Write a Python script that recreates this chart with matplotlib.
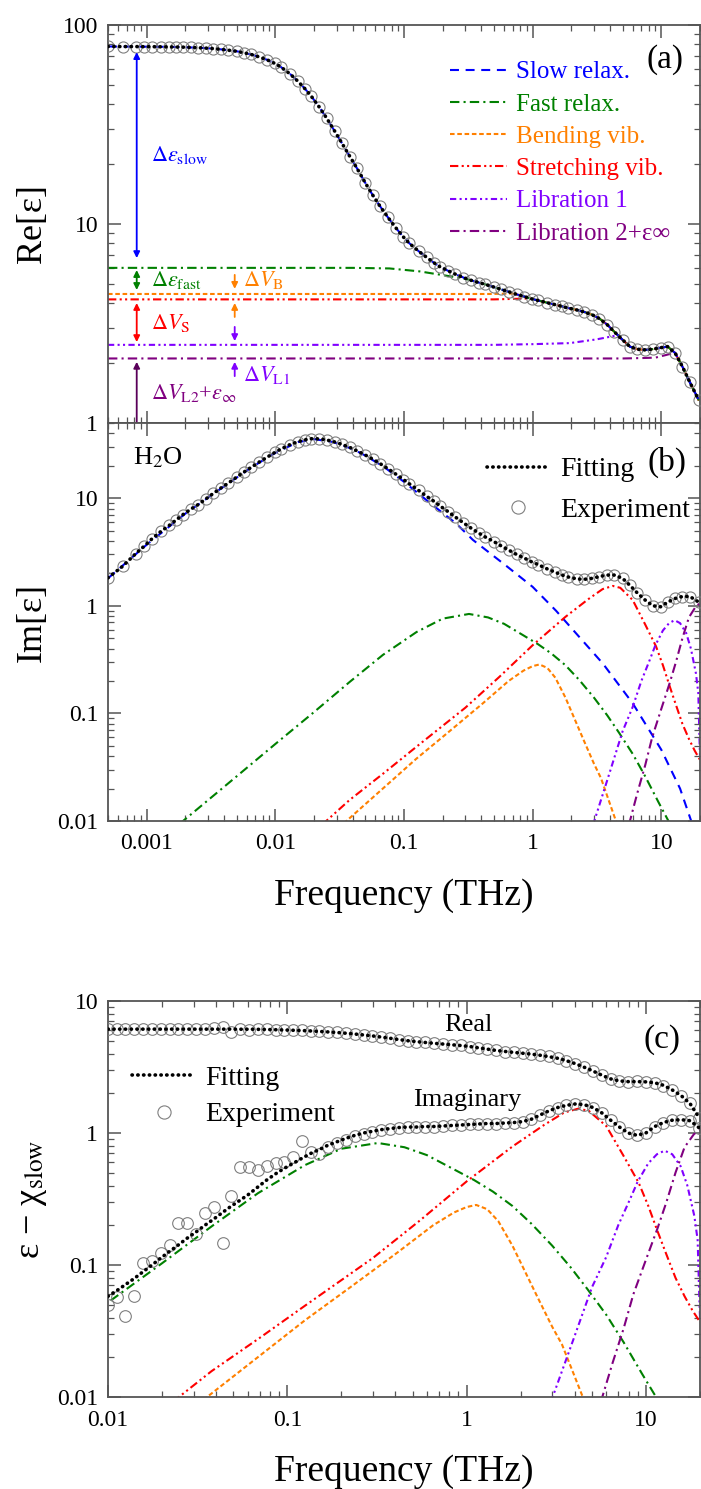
"""
Dielectric spectrum of liquid water: real/imaginary permittivity with the
relaxation and vibration components of the fit, plus eps - chi_slow.
"""

import numpy as np
import matplotlib
matplotlib.use('Agg')
import matplotlib.pyplot as plt
from matplotlib.ticker import LogLocator, NullFormatter, FuncFormatter
from matplotlib.lines import Line2D

plt.rcParams['font.family'] = ['Liberation Serif', 'DejaVu Serif']
plt.rcParams['mathtext.fontset'] = 'stix'

# ── Data (THz) ───────────────────────────────────────────────────────────────

# panels (a)/(b): measured spectrum, fit runs through the same points
freq_ab = [0.0005, 0.00065, 0.00082, 0.00096, 0.0011, 0.0013, 0.0015, 0.0017, 0.0019, 0.0022,
           0.0025, 0.0029, 0.0033, 0.0038, 0.0043, 0.005, 0.0057, 0.0065, 0.0075, 0.0086,
           0.0099, 0.011, 0.013, 0.015, 0.017, 0.019, 0.022, 0.025, 0.029, 0.033,
           0.038, 0.043, 0.05, 0.057, 0.065, 0.075, 0.086, 0.099, 0.11, 0.13,
           0.15, 0.17, 0.19, 0.22, 0.25, 0.29, 0.33, 0.38, 0.43, 0.5,
           0.57, 0.65, 0.75, 0.86, 0.99, 1.1, 1.3, 1.5, 1.7, 1.9,
           2.2, 2.5, 2.9, 3.3, 3.8, 4.3, 5.0, 5.7, 6.5, 7.5,
           8.6, 9.9, 11.2, 12.8, 14.6, 16.7, 19.6]
re_eps = [78.0, 77.9, 77.9, 77.8, 77.8, 77.7, 77.6, 77.5, 77.4, 77.1,
          76.9, 76.5, 76.1, 75.4, 74.7, 73.8, 72.5, 71.1, 69.1, 66.9,
          64.1, 61.6, 56.8, 52.1, 47.8, 43.9, 38.6, 34.1, 29.2, 25.4,
          21.8, 19.1, 16.1, 14.0, 12.3, 10.8, 9.6, 8.6, 8.0, 7.3,
          6.8, 6.4, 6.1, 5.82, 5.6, 5.38, 5.22, 5.08, 4.97, 4.82,
          4.69, 4.57, 4.43, 4.32, 4.2, 4.13, 4.02, 3.93, 3.85, 3.78,
          3.7, 3.62, 3.5, 3.35, 3.12, 2.88, 2.62, 2.42, 2.35, 2.33,
          2.35, 2.39, 2.42, 2.25, 1.92, 1.6, 1.3]
im_eps = [1.82, 2.33, 3.05, 3.6, 4.2, 4.95, 5.6, 6.3, 7.0, 7.9,
          8.7, 9.9, 11.1, 12.5, 13.8, 15.7, 17.5, 19.4, 21.7, 24.0,
          26.6, 28.6, 31.5, 33.5, 34.9, 35.7, 35.6, 34.8, 33.3, 31.6,
          29.6, 27.6, 25.2, 23.1, 21.0, 18.8, 16.8, 14.9, 13.6, 11.8,
          10.4, 9.4, 8.5, 7.5, 6.7, 5.9, 5.3, 4.75, 4.35, 3.95,
          3.6, 3.3, 3.0, 2.78, 2.55, 2.42, 2.2, 2.05, 1.93, 1.85,
          1.78, 1.76, 1.8, 1.87, 1.93, 1.93, 1.8, 1.55, 1.32, 1.13,
          1.0, 0.98, 1.08, 1.17, 1.22, 1.22, 1.08]

# panel (a): cumulative real parts, flat section before each joins the total
fast_re_f = [0.0005, 0.04, 0.077, 0.132, 0.213, 0.3]
fast_re = [6.02, 6.02, 5.98, 5.78, 5.5, 5.3]
bend_re_f = [0.0005, 0.45, 0.7]
bend_re = [4.45, 4.45, 4.47]
str_re_f = [0.0005, 0.5, 0.9]
str_re = [4.18, 4.18, 4.22]
lib1_re_f = [0.0005, 0.5, 1.0, 1.94, 3.12, 4.46]
lib1_re = [2.47, 2.47, 2.49, 2.52, 2.63, 2.75]
lib2_re_f = [0.0005, 5.0, 7.0, 9.0, 11.0, 12.5]
lib2_re = [2.11, 2.11, 2.12, 2.13, 2.2, 2.25]

# imaginary parts of the individual components
slow_im_f = [0.0005, 0.001, 0.002, 0.004, 0.0065, 0.01, 0.015, 0.02, 0.028, 0.04,
             0.05, 0.07, 0.1, 0.158, 0.255, 0.343, 0.624, 1.0, 1.52, 2.5,
             3.52, 6.0, 10.0, 14.0, 17.5]
slow_im = [1.8, 3.7, 7.2, 12.9, 19.3, 26.4, 33.2, 35.4, 33.3, 28.6,
           24.9, 19.5, 14.2, 9.1, 5.8, 4.1, 2.35, 1.5, 0.9, 0.46,
           0.29, 0.124, 0.046, 0.02, 0.0092]
fast_im_f = [0.0018, 0.005, 0.01, 0.02, 0.0378, 0.0686, 0.125, 0.2, 0.32, 0.45,
             0.6, 0.85, 1.1, 1.4, 1.8, 2.3, 3.0, 3.8, 4.7, 6.0,
             7.5, 9.5, 11.8]
fast_im = [0.0094, 0.026, 0.052, 0.103, 0.196, 0.35, 0.57, 0.76, 0.84, 0.78,
           0.68, 0.53, 0.44, 0.36, 0.28, 0.205, 0.14, 0.096, 0.066, 0.042,
           0.026, 0.015, 0.0092]
bend_im_f = [0.034, 0.07, 0.125, 0.225, 0.41, 0.65, 0.85, 1.0, 1.13, 1.3,
             1.5, 1.8, 2.2, 2.5, 3.0, 3.4, 4.55]
bend_im = [0.0095, 0.0205, 0.038, 0.068, 0.124, 0.2, 0.25, 0.275, 0.285, 0.265,
           0.215, 0.14, 0.08, 0.056, 0.034, 0.025, 0.0092]
str_im_f = [0.023, 0.0378, 0.07, 0.125, 0.3, 0.55, 1.0, 1.8, 2.7, 3.5,
            4.2, 4.8, 6.0, 7.5, 9.1, 10.3, 11.6, 13.0, 14.6, 16.4,
            18.2, 20.0]
str_im = [0.0092, 0.0157, 0.028, 0.049, 0.113, 0.218, 0.43, 0.79, 1.15, 1.43,
          1.53, 1.47, 1.13, 0.67, 0.42, 0.28, 0.18, 0.12, 0.08, 0.058,
          0.045, 0.037]
lib1_im_f = [2.95, 4.0, 5.0, 6.0, 7.0, 8.1, 9.0, 10.3, 11.5, 12.7,
             14.0, 15.6, 17.0, 18.6, 19.4, 19.8, 20.0]
lib1_im = [0.0092, 0.029, 0.068, 0.115, 0.2, 0.31, 0.43, 0.59, 0.69, 0.735,
           0.69, 0.56, 0.4, 0.235, 0.155, 0.06, 0.04]
lib2_im_f = [5.6, 6.5, 7.5, 8.5, 10.0, 11.6, 13.0, 14.6, 16.4, 18.5, 20.0]
lib2_im = [0.0092, 0.018, 0.033, 0.06, 0.11, 0.19, 0.3, 0.5, 0.78, 0.98, 1.06]

# panel (c): eps - chi_slow
freq_c = [0.01, 0.0112, 0.0125, 0.014, 0.0157, 0.0176, 0.0197, 0.0221, 0.0247, 0.0277,
          0.031, 0.0347, 0.0389, 0.0435, 0.0488, 0.0546, 0.0612, 0.0685, 0.0767, 0.0859,
          0.0962, 0.108, 0.121, 0.135, 0.151, 0.169, 0.19, 0.212, 0.238, 0.266,
          0.298, 0.334, 0.374, 0.419, 0.469, 0.525, 0.588, 0.659, 0.738, 0.826,
          0.925, 1.04, 1.16, 1.3, 1.46, 1.63, 1.83, 2.05, 2.29, 2.57,
          2.87, 3.22, 3.6, 4.04, 4.52, 5.06, 5.67, 6.35, 7.11, 7.96,
          8.91, 9.98, 11.2, 12.5, 14.0, 15.7, 17.6, 19.7]
re_c_fit = [6.12, 6.12, 6.12, 6.12, 6.12, 6.12, 6.12, 6.12, 6.12, 6.12,
            6.12, 6.12, 6.12, 6.12, 6.12, 6.11, 6.11, 6.1, 6.08, 6.06,
            6.03, 6.0, 5.97, 5.93, 5.88, 5.83, 5.77, 5.7, 5.62, 5.53,
            5.44, 5.33, 5.22, 5.1, 5.0, 4.92, 4.85, 4.78, 4.72, 4.66,
            4.6, 4.52, 4.42, 4.32, 4.22, 4.15, 4.08, 4.02, 3.96, 3.88,
            3.79, 3.68, 3.53, 3.35, 3.15, 2.95, 2.74, 2.57, 2.48, 2.45,
            2.45, 2.44, 2.4, 2.3, 2.12, 1.92, 1.67, 1.32]
re_c_exp = [6.14, 6.1, 6.13, 6.12, 6.1, 6.14, 6.12, 6.11, 6.13, 6.12,
            6.1, 6.15, 6.2, 6.4, 5.85, 6.12, 6.08, 6.12, 6.1, 6.05,
            6.05, 5.98, 5.99, 5.92, 5.9, 5.81, 5.78, 5.68, 5.63, 5.52,
            5.45, 5.32, 5.23, 5.09, 5.01, 4.91, 4.86, 4.77, 4.73, 4.65,
            4.61, 4.51, 4.43, 4.31, 4.23, 4.14, 4.09, 4.01, 3.97, 3.87,
            3.8, 3.67, 3.54, 3.34, 3.16, 2.94, 2.75, 2.56, 2.49, 2.44,
            2.46, 2.43, 2.41, 2.29, 2.13, 1.91, 1.68, 1.31]
im_c_fit = [0.058, 0.064, 0.071, 0.079, 0.089, 0.1, 0.113, 0.127, 0.142, 0.16,
            0.178, 0.2, 0.223, 0.25, 0.28, 0.31, 0.345, 0.39, 0.44, 0.49,
            0.54, 0.59, 0.645, 0.7, 0.75, 0.81, 0.86, 0.91, 0.96, 1.0,
            1.03, 1.06, 1.08, 1.1, 1.11, 1.11, 1.12, 1.12, 1.13, 1.14,
            1.15, 1.16, 1.17, 1.18, 1.18, 1.19, 1.2, 1.22, 1.27, 1.37,
            1.47, 1.56, 1.62, 1.66, 1.64, 1.56, 1.42, 1.25, 1.11, 1.0,
            0.96, 1.0, 1.12, 1.2, 1.25, 1.26, 1.24, 1.1]
im_c_exp = [0.05, 0.057, 0.041, 0.058, 0.104, 0.108, 0.123, 0.142, 0.209, 0.209,
            0.172, 0.249, 0.277, 0.148, 0.333, 0.556, 0.55, 0.525, 0.56, 0.595,
            0.6, 0.66, 0.875, 0.72, 0.69, 0.78, 0.836, 0.886, 0.95, 0.98,
            1.02, 1.05, 1.08, 1.1, 1.11, 1.11, 1.12, 1.12, 1.13, 1.14,
            1.15, 1.16, 1.17, 1.18, 1.18, 1.19, 1.2, 1.22, 1.27, 1.37,
            1.47, 1.56, 1.62, 1.66, 1.64, 1.56, 1.42, 1.25, 1.11, 1.0,
            0.96, 1.0, 1.12, 1.2, 1.25, 1.26, 1.24, 1.1]

# ── Styles ───────────────────────────────────────────────────────────────────

C_SLOW, C_FAST, C_BEND = '#0000ff', '#008000', '#ff8000'
C_STR, C_LIB1, C_LIB2 = '#ff0000', '#8000ff', '#800080'
LW = 1.5
LS_SLOW = (0, (4.3, 3.2))
LS_FAST = (0, (4.5, 2, 1, 2))
LS_BEND = (0, (2.2, 1.3))
LS_STR = (0, (4, 1.6, 1, 1.6, 1, 1.6))
LS_LIB1 = (0, (3, 1.6, 1, 1.6, 1, 1.6))
LS_LIB2 = (0, (4.5, 2, 1, 2))
LS_FIT = (0, (0.1, 1.5))
SPINE = '#555555'
MEC = '#7f7f7f'


def style_axes(ax, xlim, ylim):
    ax.set_xscale('log')
    ax.set_yscale('log')
    ax.set_xlim(*xlim)
    ax.set_ylim(*ylim)
    for axis in (ax.xaxis, ax.yaxis):
        axis.set_major_locator(LogLocator(base=10, numticks=30))
        axis.set_minor_locator(LogLocator(base=10, subs=np.arange(2, 10), numticks=300))
        axis.set_major_formatter(FuncFormatter(lambda v, p: f'{v:g}'))
        axis.set_minor_formatter(NullFormatter())
    ax.tick_params(which='both', direction='in', top=True, right=True,
                   color=SPINE, labelsize=17)
    ax.tick_params(which='major', length=9, width=1.1)
    ax.tick_params(which='minor', length=4.5, width=0.9)
    ax.tick_params(axis='y', pad=7)
    ax.tick_params(axis='x', pad=9)
    for s in ax.spines.values():
        s.set_color(SPINE)
        s.set_linewidth(1.3)


def draw_meas(ax, f, v_exp, v_fit, ms=8.0):
    ax.plot(f, v_exp, 'o', ls='none', mfc='none', mec=MEC, ms=ms, mew=0.8, zorder=3)
    ax.plot(f, v_fit, color='black', lw=2.6, ls=LS_FIT, dash_capstyle='round', zorder=4)


def draw_components_im(ax):
    ax.plot(fast_im_f, fast_im, color=C_FAST, lw=LW, ls=LS_FAST)
    ax.plot(bend_im_f, bend_im, color=C_BEND, lw=LW, ls=LS_BEND)
    ax.plot(str_im_f, str_im, color=C_STR, lw=LW, ls=LS_STR)
    ax.plot(lib1_im_f, lib1_im, color=C_LIB1, lw=LW, ls=LS_LIB1)
    ax.plot(lib2_im_f, lib2_im, color=C_LIB2, lw=LW, ls=LS_LIB2)


def fit_legend(ax, anchor, spacing):
    handles = [Line2D([], [], color='black', lw=2.6, ls=LS_FIT, dash_capstyle='round'),
               Line2D([], [], marker='o', ls='none', mfc='none', mec=MEC, ms=9.5, mew=0.8)]
    return ax.legend(handles, ['Fitting', 'Experiment'], loc='upper left',
                     bbox_to_anchor=anchor, frameon=False, fontsize=20,
                     handlelength=2.27, handletextpad=0.36, labelspacing=spacing,
                     borderpad=0, borderaxespad=0, numpoints=1)


def arrow(ax, x, y0, y1, color, style='<|-|>'):
    ax.annotate('', xy=(x, y1), xytext=(x, y0),
                arrowprops=dict(arrowstyle=style, color=color, lw=1.3,
                                shrinkA=0, shrinkB=0, mutation_scale=9))


fig = plt.figure(figsize=(7.01, 14.89), dpi=100)
W, H = 701, 1489
ax_a = fig.add_axes([108 / W, 1 - 423 / H, 592 / W, 398 / H])
ax_b = fig.add_axes([108 / W, 1 - 821 / H, 592 / W, 398 / H])
ax_c = fig.add_axes([108 / W, 1 - 1397 / H, 592 / W, 396 / H])

fab = np.array(freq_ab)
re_tot = np.array(re_eps)

# ── (a) real part ────────────────────────────────────────────────────────────
style_axes(ax_a, (0.0005, 20), (1, 100))
ax_a.tick_params(axis='x', labelbottom=False)


def joined(f_lo, v_lo):
    """Flat section of a cumulative curve followed by the total above it."""
    hi = fab > f_lo[-1]
    return np.r_[f_lo, fab[hi]], np.r_[v_lo, re_tot[hi]]


ax_a.plot(*joined(lib2_re_f, lib2_re), color=C_LIB2, lw=LW, ls=LS_LIB2,
          label='Libration 2+ε∞')
ax_a.plot(*joined(lib1_re_f, lib1_re), color=C_LIB1, lw=LW, ls=LS_LIB1,
          label='Libration 1')
ax_a.plot(*joined(str_re_f, str_re), color=C_STR, lw=LW, ls=LS_STR,
          label='Stretching vib.')
ax_a.plot(*joined(bend_re_f, bend_re), color=C_BEND, lw=LW, ls=LS_BEND,
          label='Bending vib.')
ax_a.plot(*joined(fast_re_f, fast_re), color=C_FAST, lw=LW, ls=LS_FAST,
          label='Fast relax.')
ax_a.plot(fab, re_tot, color=C_SLOW, lw=LW, ls=LS_SLOW, label='Slow relax.')
draw_meas(ax_a, fab, re_tot, re_tot)

h, l = ax_a.get_legend_handles_labels()
ax_a.legend(h[::-1], l[::-1], loc='upper left', bbox_to_anchor=(0.578, 0.91),
            frameon=False, fontsize=18, labelcolor='linecolor',
            handlelength=2.28, handletextpad=0.36, labelspacing=0.39,
            borderpad=0, borderaxespad=0)
ax_a.text(0.941, 0.912, '(a)', transform=ax_a.transAxes, fontsize=24,
          ha='center', va='center')
ax_a.set_ylabel('Re[ε]', fontsize=26)
ax_a.yaxis.set_label_coords(-0.1, 0.5)

xa, xb = 0.000836, 0.00483
xt_a, xt_b = 0.00107, 0.00557
arrow(ax_a, xa, 73.1, 6.74, C_SLOW)
ax_a.text(xt_a, 22.2, r'$\Delta\varepsilon_{\rm slow}$', color=C_SLOW, fontsize=16, va='center')
arrow(ax_a, xa, 5.87, 4.66, C_FAST)
ax_a.text(xt_a, 5.24, r'$\Delta\varepsilon_{\rm fast}$', color=C_FAST, fontsize=16, va='center')
arrow(ax_a, xb, 5.55, 4.72, C_BEND, '-|>')
arrow(ax_a, xb, 3.41, 4.01, C_BEND, '-|>')
ax_a.text(xt_b, 5.24, r'$\Delta V_{\rm B}$', color=C_BEND, fontsize=16, va='center')
arrow(ax_a, xa, 4.01, 2.55, C_STR)
ax_a.text(xt_a, 3.18, r'$\Delta V_{\rm S}$', color=C_STR, fontsize=16, va='center')
arrow(ax_a, xb, 3.04, 2.58, C_LIB1, '-|>')
arrow(ax_a, xb, 1.72, 2.03, C_LIB1, '-|>')
ax_a.text(xt_b, 1.74, r'$\Delta V_{\rm L1}$', color=C_LIB1, fontsize=16, va='center')
arrow(ax_a, xa, 1.0, 2.03, '#5a005a', '-|>')
ax_a.text(xt_a, 1.42, r'$\Delta V_{\rm L2}$+$\varepsilon_{\infty}$', color=C_LIB2,
          fontsize=16, va='center')

# ── (b) imaginary part ───────────────────────────────────────────────────────
style_axes(ax_b, (0.0005, 20), (0.01, 50))
ax_b.plot(slow_im_f, slow_im, color=C_SLOW, lw=LW, ls=LS_SLOW)
draw_components_im(ax_b)
draw_meas(ax_b, fab, im_eps, im_eps)
fit_legend(ax_b, (0.64, 0.915), 0.55)
ax_b.text(0.944, 0.9, '(b)', transform=ax_b.transAxes, fontsize=24,
          ha='center', va='center')
ax_b.text(0.042, 0.912, r'H$_2$O', transform=ax_b.transAxes, fontsize=19,
          ha='left', va='center')
ax_b.set_ylabel('Im[ε]', fontsize=26)
ax_b.yaxis.set_label_coords(-0.1, 0.5)
ax_b.set_xlabel('Frequency (THz)', fontsize=27)
ax_b.xaxis.set_label_coords(0.5, -0.143)
ax_b.xaxis.label.set_va('top')

# ── (c) eps - chi_slow ───────────────────────────────────────────────────────
style_axes(ax_c, (0.01, 20), (0.01, 10))
draw_components_im(ax_c)
draw_meas(ax_c, freq_c, re_c_exp, re_c_fit, ms=8.4)
draw_meas(ax_c, freq_c, im_c_exp, im_c_fit, ms=8.4)
fit_legend(ax_c, (0.0405, 0.838), 0.41)
ax_c.text(0.936, 0.902, '(c)', transform=ax_c.transAxes, fontsize=24,
          ha='center', va='center')
ax_c.text(0.608, 0.939, 'Real', transform=ax_c.transAxes, fontsize=19,
          ha='center', va='center')
ax_c.text(0.607, 0.75, 'Imaginary', transform=ax_c.transAxes, fontsize=19,
          ha='center', va='center')
ax_c.set_ylabel('ε − χ$_{\\rm slow}$', fontsize=26)
ax_c.yaxis.set_label_coords(-0.1, 0.5)
ax_c.set_xlabel('Frequency (THz)', fontsize=27)
ax_c.xaxis.set_label_coords(0.5, -0.146)
ax_c.xaxis.label.set_va('top')

fig.savefig('out.png', dpi=100)
